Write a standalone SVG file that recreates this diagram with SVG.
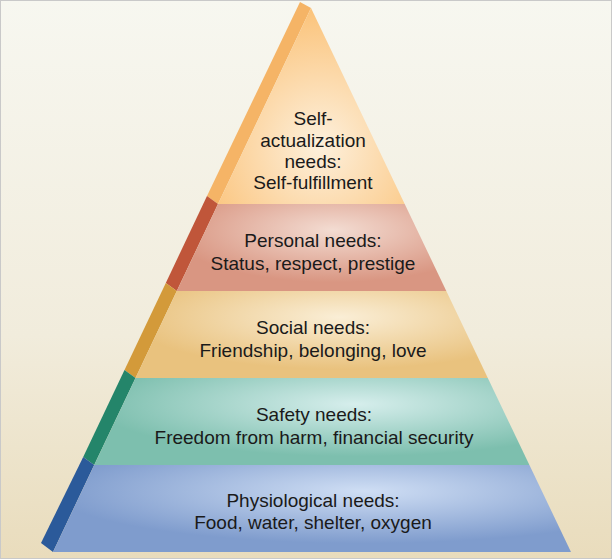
<svg xmlns="http://www.w3.org/2000/svg" width="612" height="559" viewBox="0 0 612 559">
<defs>
<linearGradient id="bg" x1="0" y1="0" x2="0" y2="1"><stop offset="0" stop-color="#f7f7f0"/><stop offset="0.6" stop-color="#f1ecdc"/><stop offset="1" stop-color="#e9dcbc"/></linearGradient>
<radialGradient id="g1" cx="0.55" cy="0.7" r="0.7"><stop offset="0" stop-color="#fdf0dc"/><stop offset="1" stop-color="#fbc37a"/></radialGradient>
<radialGradient id="g2" cx="0.58" cy="0.3" r="0.6"><stop offset="0" stop-color="#f3dcd2"/><stop offset="1" stop-color="#d99682"/></radialGradient>
<radialGradient id="g3" cx="0.58" cy="0.3" r="0.6"><stop offset="0" stop-color="#faeed6"/><stop offset="1" stop-color="#e9c27e"/></radialGradient>
<radialGradient id="g4" cx="0.6" cy="0.3" r="0.6"><stop offset="0" stop-color="#d6eeec"/><stop offset="1" stop-color="#7dbfae"/></radialGradient>
<radialGradient id="g5" cx="0.6" cy="0.3" r="0.6"><stop offset="0" stop-color="#cfdef4"/><stop offset="1" stop-color="#7f9ccd"/></radialGradient>
</defs>
<style>
text{font-family:"Liberation Sans",Arial,sans-serif;font-size:19px;fill:#1a1a1a;text-anchor:middle}
</style>
<rect width="612" height="559" fill="url(#bg)"/>
<rect x="0.5" y="0.5" width="611" height="558" fill="none" stroke="#c9c9c9"/>
<g id="self-actualization">
<polygon points="300,2 311,8 218,204 207,196" fill="#f5b466"/>
<polygon points="311,8 404.7,204 218,204" fill="url(#g1)"/>
<text x="313" y="125">Self-</text><text x="313" y="147">actualization</text><text x="313" y="168">needs:</text><text x="313" y="189">Self-fulfillment</text>
</g>
<g id="personal">
<polygon points="207,196 218,204 176.8,291 165.8,283" fill="#c0563a"/>
<polygon points="218,204 404.7,204 446.3,291 176.8,291" fill="url(#g2)"/>
<text x="313" y="247">Personal needs:</text><text x="313" y="270">Status, respect, prestige</text>
</g>
<g id="social">
<polygon points="165.8,283 176.8,291 135.5,378 124.5,370" fill="#d39a3a"/>
<polygon points="176.8,291 446.3,291 487.8,378 135.5,378" fill="url(#g3)"/>
<text x="313" y="334">Social needs:</text><text x="313" y="357">Friendship, belonging, love</text>
</g>
<g id="safety">
<polygon points="124.5,370 135.5,378 94.2,465 83.2,457" fill="#24856a"/>
<polygon points="135.5,378 487.8,378 529.4,465 94.2,465" fill="url(#g4)"/>
<text x="314" y="421">Safety needs:</text><text x="314" y="444">Freedom from harm, financial security</text>
</g>
<g id="physiological">
<polygon points="83.2,457 94.2,465 53,552 41,543" fill="#2b5a9a"/>
<polygon points="94.2,465 529.4,465 571,552 53,552" fill="url(#g5)"/>
<text x="313" y="507">Physiological needs:</text><text x="313" y="529">Food, water, shelter, oxygen</text>
</g>
<g id="connectors"/>
</svg>
